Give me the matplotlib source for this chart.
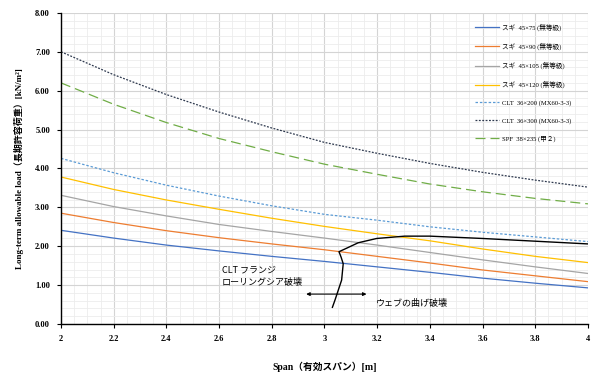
import matplotlib
matplotlib.use("Agg")
import matplotlib.pyplot as plt
from matplotlib.ticker import MultipleLocator, FormatStrFormatter

# データ
span = [2.0, 2.2, 2.4, 2.6, 2.8, 3.0, 3.2, 3.4, 3.6, 3.8, 4.0]
sugi_75 = [2.41, 2.21, 2.03, 1.88, 1.74, 1.61, 1.47, 1.33, 1.18, 1.05, 0.93]
sugi_90 = [2.85, 2.61, 2.40, 2.22, 2.06, 1.91, 1.74, 1.57, 1.39, 1.24, 1.09]
sugi_105 = [3.31, 3.02, 2.78, 2.56, 2.38, 2.21, 2.03, 1.84, 1.65, 1.47, 1.30]
sugi_120 = [3.78, 3.46, 3.19, 2.95, 2.72, 2.51, 2.32, 2.14, 1.93, 1.74, 1.58]
clt_200 = [4.26, 3.89, 3.57, 3.29, 3.04, 2.82, 2.67, 2.50, 2.36, 2.24, 2.12]
clt_300 = [7.00, 6.41, 5.90, 5.45, 5.04, 4.67, 4.39, 4.13, 3.90, 3.70, 3.52]
spf_235 = [6.20, 5.65, 5.18, 4.77, 4.43, 4.11, 3.85, 3.60, 3.40, 3.23, 3.09]

labels = ["スギ  45×75 (無等級)", "スギ  45×90 (無等級)", "スギ  45×105 (無等級)",
          "スギ  45×120 (無等級)", "CLT  36×200 (MX60-3-3)", "CLT  36×300 (MX60-3-3)",
          "SPF  38×235 (甲２)"]

# 破壊モードの境界線（手書きの線）
bound_x = [3.03, 3.04, 3.065, 3.071, 3.063, 3.055, 3.084, 3.128, 3.198, 3.305, 3.40, 3.60, 3.80, 4.0]
bound_y = [0.43, 0.62, 1.13, 1.55, 1.72, 1.86, 1.95, 2.09, 2.20, 2.26, 2.26, 2.20, 2.13, 2.06]

serif = ["Liberation Serif", "Noto Sans CJK JP"]
gothic = ["Noto Sans CJK JP", "DejaVu Sans"]

fig = plt.figure(figsize=(6.04, 3.79), dpi=100)
ax = fig.add_axes([0.101, 0.145, 0.8725, 0.821])

ax.plot(span, sugi_75, color="#4472C4", lw=0.9, label=labels[0])
ax.plot(span, sugi_90, color="#ED7D31", lw=0.9, label=labels[1])
ax.plot(span, sugi_105, color="#A5A5A5", lw=0.9, label=labels[2])
ax.plot(span, sugi_120, color="#FFC000", lw=0.9, label=labels[3])
ax.plot(span, clt_200, color="#5B9BD5", lw=0.9, ls=(0, (2, 1.5)), label=labels[4])
ax.plot(span, clt_300, color="#2F3A4F", lw=0.9, ls=(0, (1.5, 1.2)), label=labels[5])
ax.plot(span, spf_235, color="#70AD47", lw=0.9, ls=(0, (8, 4)), label=labels[6])

ax.plot(bound_x, bound_y, color="black", lw=1.0)
ax.annotate("", xy=(2.92, 0.77), xytext=(3.17, 0.77),
            arrowprops=dict(arrowstyle="<|-|>", color="black", lw=0.8,
                            mutation_scale=5))
ax.text(2.61, 1.39, "CLT フランジ", family=gothic, fontsize=6.5, va="center")
ax.text(2.61, 1.09, "ローリングシア破壊", family=gothic, fontsize=6.5, va="center")
ax.text(3.195, 0.53, "ウェブの曲げ破壊", family=gothic, fontsize=6.5, va="center")

ax.set_xlim(2, 4)
ax.set_ylim(0, 8)
ax.xaxis.set_major_locator(MultipleLocator(0.2))
ax.xaxis.set_minor_locator(MultipleLocator(0.05))
ax.yaxis.set_major_locator(MultipleLocator(1))
ax.yaxis.set_minor_locator(MultipleLocator(0.2))
ax.yaxis.set_major_formatter(FormatStrFormatter("%.2f"))
ax.set_xticks(span)
ax.set_xticklabels(["2", "2.2", "2.4", "2.6", "2.8", "3", "3.2", "3.4", "3.6", "3.8", "4"])

ax.grid(which="major", color="#d4d4d4", lw=0.8)
ax.grid(which="minor", color="#ececec", lw=0.6)
ax.set_axisbelow(True)
for s in ["top", "right"]:
    ax.spines[s].set_visible(False)
ax.spines["left"].set_linewidth(1.0)
ax.spines["bottom"].set_linewidth(1.0)
ax.tick_params(which="major", length=3, width=0.8, pad=5, labelsize=6)
ax.tick_params(which="minor", length=0)
for t in ax.get_xticklabels() + ax.get_yticklabels():
    t.set_family(serif)
    t.set_fontweight("bold")

ax.set_xlabel("Span（有効スパン）[m]", family=serif, fontweight="bold", fontsize=7, labelpad=13)
ax.set_ylabel("Long-term allowable load（長期許容荷重）[kN/m²]", family=serif,
              fontweight="bold", fontsize=6.5, labelpad=8)

leg = ax.legend(loc="upper left", bbox_to_anchor=(0.775, 0.985), frameon=False,
                prop={"family": serif, "size": 4.8}, labelspacing=1.75,
                handlelength=3.6, handletextpad=0.4)

fig.savefig("out.png", dpi=100)
